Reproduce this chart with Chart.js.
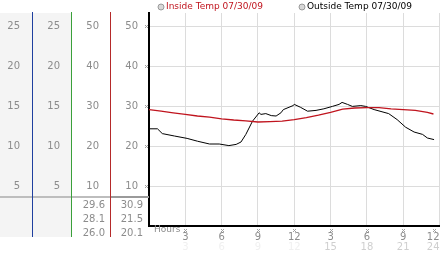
<!DOCTYPE html>
<html><head><meta charset="utf-8">
<script src="https://cdn.jsdelivr.net/npm/chart.js@4/dist/chart.umd.min.js"></script>
<style>html,body{margin:0;padding:0;background:#fff;}#wrap{width:442px;height:253px;position:relative;}</style>
</head><body><div id="wrap"><canvas id="c" width="442" height="253"></canvas></div>
<script>
const insideLabel = 'Inside Temp 07/30/09';
const outsideLabel = 'Outside Temp 07/30/09';
const insideHours = [0,1,2,3,4,5,6,7,8,9,10,11,12,13,14,15,16,17,18,19,20,21,22,23,23.5];
const insideTemps = [29.1,28.7,28.3,27.9,27.5,27.2,26.8,26.5,26.3,26.0,26.1,26.2,26.6,27.1,27.7,28.4,29.2,29.5,29.6,29.6,29.3,29.1,28.9,28.4,28.0];
const outsideHours = [0,0.7,1.1,2.1,3.15,4.0,5.0,5.8,6.6,7.2,7.6,8.0,8.55,9.1,9.25,9.65,10.1,10.5,10.9,11.1,11.9,12.0,12.5,13.1,13.8,14.45,15.15,15.7,15.95,16.4,16.8,17.5,17.9,18.6,19.8,20.5,21.2,21.9,22.6,23.0,23.55];
const outsideTemps = [24.3,24.3,23.1,22.5,21.9,21.2,20.5,20.5,20.1,20.4,21.0,22.9,26.2,28.3,27.9,28.1,27.6,27.5,28.3,29.1,30.1,30.4,29.7,28.7,28.9,29.3,29.9,30.4,30.9,30.4,29.9,30.1,29.9,29.1,28.1,26.6,24.7,23.5,22.9,22.0,21.6];
const hourTicks = [3,6,9,12,15,18,21,24];
const hourLabels = ['3','6','9','12','3','6','9','12'];
const hour24Labels = ['3','6','9','12','15','18','21','24'];
const tempTicks = [10,20,30,40,50];
const halfTicks = [5,10,15,20,25];
const insideStats = ['29.6','28.1','26.0'];
const outsideStats = ['30.9','21.5','20.1'];

const FONT = {family: 'DejaVu Sans', size: 10};
const GREY = '#8c8c8c';

function fixW(w){ return function(s){ s.width = w; s.paddingTop = 0; s.paddingBottom = 0; }; }
function fixH(h){ return function(s){ s.height = h; s.paddingLeft = 0; s.paddingRight = 0; }; }
function pick(list){ return function(v){ return list.includes(v) ? String(v) : ''; }; }

function mark(ctx, cx, cy){
  ctx.fillStyle = '#a0a0a0';
  [[-1,-1],[1,-1],[0,0],[-1,1],[1,1]].forEach(function(p){ ctx.fillRect(Math.round(cx)+p[0], Math.round(cy)+p[1], 1, 1); });
}

const decor = {
  id: 'decor',
  beforeDraw(chart){
    const ctx = chart.ctx, s = chart.scales, top = chart.chartArea.top;
    ctx.save();
    ctx.fillStyle = '#f4f4f4';
    ctx.fillRect(s.y1.left, top, s.y2.right - s.y1.left, 237 - top);
    ctx.restore();
  },
  afterDraw(chart){
    const ctx = chart.ctx, s = chart.scales, a = chart.chartArea;
    ctx.save();
    ctx.fillStyle = '#bdbdbd';
    ctx.fillRect(0, 196, s.y3.right, 2);
    ctx.fillStyle = '#9a9a9a';
    ctx.fillRect(s.y3.right, 196, s.y.right - s.y3.right, 2);
    [['y1','#1f3f9f'],['y2','#3aa03a'],['y3','#b52a2a']].forEach(function(p){
      ctx.fillStyle = p[1];
      ctx.fillRect(Math.round(s[p[0]].right) - 1, a.top - 1, 1, 238 - a.top);
    });
    tempTicks.forEach(function(v){ mark(ctx, s.y.right - 3, s.y.getPixelForValue(v)); });
    hourTicks.forEach(function(h, i){
      let px = s.x.getPixelForValue(h);
      if (i === hourTicks.length - 1) px -= 6;
      mark(ctx, px, 230);
    });
    ctx.font = '10px "DejaVu Sans"';
    ctx.fillStyle = GREY;
    ctx.textAlign = 'right';
    ctx.textBaseline = 'middle';
    insideStats.forEach(function(t, i){ ctx.fillText(t, s.y3.right - 6, 205 + i * 14); });
    outsideStats.forEach(function(t, i){ ctx.fillText(t, s.y.right - 6, 205 + i * 14); });
    ctx.font = '9px "DejaVu Sans"';
    ctx.textAlign = 'left';
    ctx.fillText('Hours', a.left + 5, 230);
    const items = [[insideLabel, '#c0141e', 161], [outsideLabel, '#000000', 302]];
    items.forEach(function(it){
      ctx.beginPath();
      ctx.arc(it[2], 7, 3, 0, Math.PI * 2);
      ctx.fillStyle = '#d8d8d8';
      ctx.fill();
      ctx.strokeStyle = '#9a9a9a';
      ctx.lineWidth = 1;
      ctx.stroke();
      ctx.fillStyle = it[1];
      ctx.fillText(it[0], it[2] + 5, 7);
    });
    ctx.restore();
  }
};

function pts(xs, ys){ return xs.map(function(x, i){ return {x: x, y: ys[i]}; }); }

new Chart(document.getElementById('c'), {
  type: 'line',
  data: {
    datasets: [
      {label: insideLabel, data: pts(insideHours, insideTemps), borderColor: '#c0141e', borderWidth: 1.3, pointRadius: 0, xAxisID: 'x', yAxisID: 'y'},
      {label: outsideLabel, data: pts(outsideHours, outsideTemps), borderColor: '#000000', borderWidth: 1, pointRadius: 0, xAxisID: 'x', yAxisID: 'y'}
    ]
  },
  options: {
    responsive: false,
    animation: false,
    layout: {padding: {top: 13, right: 2.5, left: 0, bottom: 0}},
    plugins: {legend: {display: false}, tooltip: {enabled: false}},
    scales: {
      x: {type: 'linear', position: 'bottom', weight: 0, min: 0, max: 24,
        grid: {color: '#dcdcdc', drawTicks: false},
        border: {color: '#000', width: 2},
        ticks: {stepSize: 3, autoSkip: false, maxRotation: 0, align: 'inner', padding: 5, color: GREY, font: FONT,
          callback: function(v){ const i = hourTicks.indexOf(v); return i < 0 ? '' : hourLabels[i]; }},
        afterFit: fixH(15)},
      x2: {type: 'linear', position: 'bottom', weight: 1, min: 0, max: 24,
        grid: {display: false, drawTicks: false}, border: {display: false},
        ticks: {stepSize: 3, autoSkip: false, maxRotation: 0, align: 'inner', padding: 0, font: FONT,
          color: function(c){ return c.tick && c.tick.value <= 12 ? '#f0f0f0' : '#cfcfcf'; },
          callback: function(v){ const i = hourTicks.indexOf(v); return i < 0 ? '' : hour24Labels[i]; }},
        afterFit: fixH(12)},
      y: {type: 'linear', position: 'left', weight: 0, min: 0, max: 53.25,
        grid: {color: '#dcdcdc', drawTicks: false},
        border: {color: '#000', width: 2},
        ticks: {stepSize: 10, includeBounds: false, padding: 11, color: GREY, font: FONT, callback: pick(tempTicks)},
        afterFit: fixW(38)},
      y3: {type: 'linear', position: 'left', weight: 1, min: 0, max: 53.25,
        grid: {display: false, drawTicks: false}, border: {display: false},
        ticks: {stepSize: 10, includeBounds: false, padding: 12, color: GREY, font: FONT, callback: pick(tempTicks)},
        afterFit: fixW(39)},
      y2: {type: 'linear', position: 'left', weight: 2, min: 0, max: 26.625,
        grid: {display: false, drawTicks: false}, border: {display: false},
        ticks: {stepSize: 5, includeBounds: false, padding: 12, color: GREY, font: FONT, callback: pick(halfTicks)},
        afterFit: fixW(39)},
      y1: {type: 'linear', position: 'left', weight: 3, min: 0, max: 26.625,
        grid: {display: false, drawTicks: false}, border: {display: false},
        ticks: {stepSize: 5, includeBounds: false, padding: 13, color: GREY, font: FONT, callback: pick(halfTicks)},
        afterFit: fixW(33)}
    }
  },
  plugins: [decor]
});
</script></body></html>
